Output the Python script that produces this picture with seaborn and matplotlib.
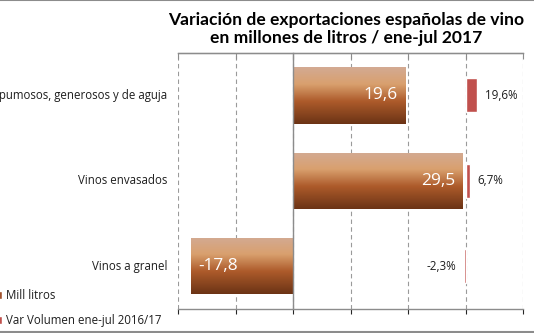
import numpy as np
import pandas as pd
import matplotlib
matplotlib.use("Agg")
import matplotlib.pyplot as plt
from matplotlib.colors import LinearSegmentedColormap
from matplotlib.patches import Patch
from matplotlib.lines import Line2D
import seaborn as sns

# Exportaciones españolas de vino, ene-jul 2017
categorias = ["Espumosos, generosos y de aguja", "Vinos envasados", "Vinos a granel"]
mill_litros = [19.6, 29.5, -17.8]
var_volumen = [19.6, 6.7, -2.3]  # % variación ene-jul 2016/17

titulo = ["Variación de exportaciones españolas de vino",
          "en millones de litros / ene-jul 2017"]
leyenda = ["Mill litros", "Var Volumen ene-jul 2016/17"]

sns.set_style("white")
plt.rcParams["font.family"] = ["Open Sans", "DejaVu Sans"]

GRIS = "#8C8C8C"
ROJO = "#C0504D"
TEXTO = "#1E1E1E"

df = pd.DataFrame({"cat": categorias, "litros": mill_litros, "var": var_volumen})

fig = plt.figure(figsize=(5.34, 3.33), dpi=100)
ax = fig.add_axes([0.3339, 0.0721, 0.6461, 0.7697])

sns.barplot(data=df, x="litros", y="cat", orient="h", ax=ax, width=0.66,
            color="#A0522D", saturation=1, zorder=2)

# vertical brown gradient clipped to each bar
cmap = LinearSegmentedColormap.from_list(
    "vino", [(0, "#D3AA93"), (0.3, "#D9A06E"), (0.6, "#AD5B2B"), (1, "#6B3315")])
grad = np.linspace(0, 1, 256).reshape(-1, 1)
for p in list(ax.patches):
    bb = p.get_bbox()
    x0, x1 = sorted([bb.x0, bb.x1])
    y0, y1 = sorted([bb.y0, bb.y1])
    im = ax.imshow(grad, cmap=cmap, aspect="auto", origin="upper",
                   extent=[x0, x1, y1, y0], interpolation="bilinear", zorder=2)
    im.set_clip_path(p)
    p.set_facecolor("none")
    p.set_edgecolor("none")

ax.set_xlim(-20, 40)
ax.set_ylim(2.5, -0.5)
ax.set_xticks(np.arange(-20, 41, 10))
ax.set_axisbelow(True)
ax.grid(axis="x", color="#9A9A9A", linestyle=(0, (4, 3)), linewidth=0.8)
ax.grid(axis="y", visible=False)
ax.tick_params(axis="x", bottom=False, labelbottom=False)
ax.set_xlabel("")
ax.set_ylabel("")

# category axis crosses at zero
ax.spines["left"].set_position(("data", 0))
ax.spines["left"].set_color(GRIS)
ax.spines["left"].set_linewidth(1.0)
ax.spines["right"].set_visible(False)
ax.spines["bottom"].set_color(GRIS)
ax.spines["bottom"].set_linewidth(1.0)
ax.set_yticks([0.5, 1.5])
ax.set_yticklabels([])
ax.tick_params(axis="y", left=True, length=4, width=1.0, color=GRIS, direction="out")

for i, c in enumerate(categorias):
    ax.text(-0.031, i, c, transform=ax.get_yaxis_transform(), ha="right", va="center",
            fontsize=8.3, color=TEXTO)

for i, v in enumerate(mill_litros):
    etiqueta = f"{v:.1f}".replace(".", ",")
    ax.annotate(etiqueta, xy=(v, i), xytext=(-5.8 if v > 0 else 5.3, 0),
                textcoords="offset points", ha="right" if v > 0 else "left",
                va="center", fontsize=12.4, color="white", zorder=5)

# secondary axis: volume variation in percent
ax2 = ax.twiny()
sns.barplot(data=df, x="var", y="cat", orient="h", ax=ax2, width=0.4,
            color=ROJO, saturation=1, zorder=3)
ax2.set_xlim(-500, 100)
ax2.set_ylim(2.5, -0.5)
ax2.set_xticks(np.arange(-500, 101, 100))
ax2.tick_params(axis="x", top=True, labeltop=False, bottom=False, labelbottom=False,
                direction="in", length=4, width=0.8, color=GRIS)
ax2.set_xlabel("")
ax2.set_ylabel("")
ax2.set_yticks([])
for s in ["left", "right", "bottom"]:
    ax2.spines[s].set_visible(False)
ax2.spines["top"].set_color(GRIS)
ax2.spines["top"].set_linewidth(1.0)
ax2.bar_label(ax2.containers[0],
              labels=[f"{v:.1f}%".replace(".", ",") for v in var_volumen],
              padding=5.8, fontsize=8.4, color=TEXTO)

for linea, yb in zip(titulo, [25, 43]):
    fig.text(0.649, 1 - yb / 333, linea, ha="center", va="baseline", fontsize=12.6,
             fontweight="bold", color="black", family=["Lato", "DejaVu Sans"])

handles = [Patch(facecolor="#A0522D"), Patch(facecolor=ROJO)]
fig.legend(handles, leyenda, loc="lower left", bbox_to_anchor=(-0.0214, -0.006),
           frameon=False, fontsize=8.3, handlelength=0.5, handleheight=0.7,
           handletextpad=0.35, labelspacing=1.0, borderpad=0.2, labelcolor=TEXTO)

# chart frame, top and bottom edges
for yy in (0.999, 0.002):
    fig.add_artist(Line2D([0, 1], [yy, yy], transform=fig.transFigure,
                          color=GRIS, linewidth=1.5))

fig.savefig("out.png", dpi=100)
